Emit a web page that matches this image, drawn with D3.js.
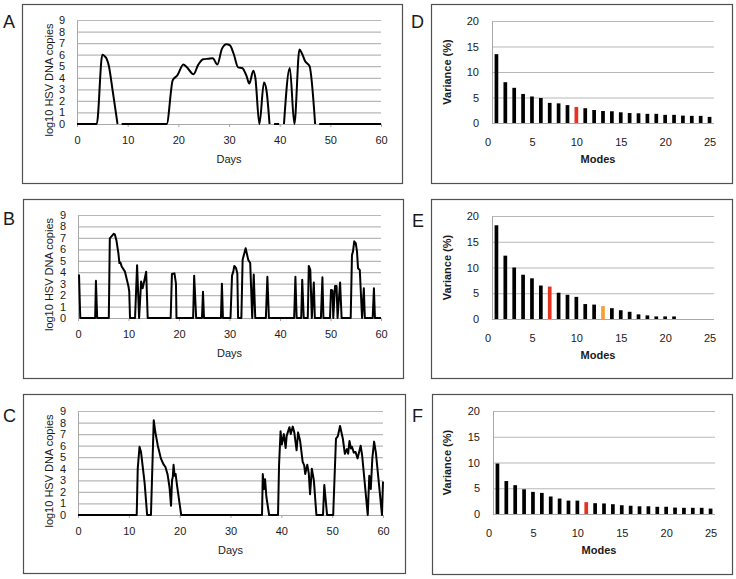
<!DOCTYPE html>
<html><head><meta charset="utf-8">
<script src="https://cdn.jsdelivr.net/npm/d3@7"></script>
<style>
html,body{margin:0;padding:0;background:#fff;}
svg{display:block;font-family:"Liberation Sans",Arial,sans-serif;}
</style></head>
<body>
<svg id="c" width="736" height="579"></svg>
<script>
// ---------- DATA ----------
const dayTicks = [0, 10, 20, 30, 40, 50, 60];
const logTicks = [0, 1, 2, 3, 4, 5, 6, 7, 8, 9];
const modeTicks = [0, 5, 10, 15, 20, 25];
const varTicks = [0, 5, 10, 15, 20];
const modes = d3.range(1, 26);

// Panel A (null = gap in the trace)
const aDays = [0,3.9,5.0,5.5,5.9,6.3,7.0,8.0,8.4,8.8,17.7,18.9,19.8,21.0,21.6,23.0,23.9,24.9,25.9,26.8,27.7,28.6,29.5,30.2,30.9,31.8,32.6,33.5,34.0,34.8,35.2,36.0,36.9,37.4,38.0,38.4,38.9,39.9,40.3,40.85,42.0,42.9,43.9,44.4,45.0,45.9,47.0,47.4,47.8,60];
const aLog  = [0,0,6.0,5.85,5.6,5.0,3.0,0,null,0,0,3.8,4.2,5.15,4.95,4.3,5.1,5.6,5.65,5.7,5.15,6.5,6.9,6.8,6.1,4.9,4.85,4.1,3.5,4.6,4.0,0,3.6,2.9,0,null,0,0,null,0,4.85,0,6.45,6.1,5.45,5.0,0,null,0,0];

// Panel B
const bDays = [0.2,0.45,3.4,3.55,3.8,6.1,6.3,7.06,7.3,7.6,8.0,8.2,8.4,8.65,9.3,10.0,10.15,10.3,11.3,11.7,12.1,12.5,12.8,13.0,13.5,13.8,18.35,18.6,19.1,19.4,19.5,22.8,23.0,23.4,24.55,24.75,24.95,28.3,28.5,28.7,30.2,30.5,30.75,30.95,31.3,31.55,31.7,32.35,32.6,33.2,33.7,34.1,34.5,34.8,35.1,37.2,37.5,37.8,42.8,43.05,43.3,44.2,44.4,44.7,45.5,45.7,46.0,46.3,46.7,46.9,48.1,48.4,48.6,49.9,50.1,50.4,50.55,50.9,51.2,51.4,51.9,52.2,54.0,54.25,54.45,54.7,55.0,55.25,55.45,55.8,56.25,56.6,56.8,58.35,58.6,58.8,60];
const bLog  = [3.8,0,0,3.25,0,0,6.96,7.35,7.3,6.8,5.65,4.8,4.85,4.5,4.05,2.75,2.3,0,0,4.6,0,3.2,2.6,3.0,4.05,0,0,3.85,3.9,3.0,0,0,3.7,0,0,2.3,0,0,3.0,0,0,3.7,4.05,4.55,4.35,3.9,0,0,5.1,6.1,5.1,4.8,0,3.8,0,0,3.6,0,0,3.6,0,0,3.35,0,0,4.55,4.2,0,3.1,0,0,3.55,0,0,2.45,2.4,0,2.8,2.8,0,3.1,0,0,5.5,5.8,6.7,6.55,5.8,4.35,4.2,0,2.6,0,0,2.6,0,0];

// Panel C
const cDays = [0,11.55,11.75,12.1,12.4,13.1,13.6,14.35,14.9,15.2,15.7,16.3,16.8,17.2,17.6,17.7,18.0,18.3,18.5,18.65,18.8,19.0,19.2,19.5,20.3,36.2,36.35,36.6,36.8,37.05,37.6,39.35,39.55,39.85,40.1,40.5,40.85,41.05,41.6,41.85,42.25,42.55,43.0,43.3,43.7,44.2,44.5,44.7,45.1,45.4,45.65,46.0,46.4,46.9,48.2,48.45,49.0,50.2,50.75,51.1,51.55,52.1,52.5,52.9,53.15,53.4,53.7,53.9,54.25,54.6,55.0,55.6,55.9,57.0,57.3,57.6,57.9,58.25,58.6,59.8,60];
const cLog  = [0,0,4.0,5.9,5.45,2.8,0,0,8.2,7.2,6.0,4.9,4.4,4.15,3.55,3.3,2.4,0.8,3.0,3.3,4.35,3.4,3.55,2.5,0,0,3.55,2.25,3.1,1.6,0,0,4.3,7.25,6.1,7.0,5.8,6.85,7.6,7.0,7.65,7.15,5.6,7.15,6.4,4.6,4.3,3.55,4.35,3.6,1.8,4.0,3.0,0,0,2.6,0,0,6.6,6.8,7.7,6.6,5.3,5.7,5.3,6.4,5.75,5.9,5.4,5.45,4.9,6.0,5.15,0,3.4,2.25,4.9,6.35,5.4,0,2.9];

// Panels D, E, F: variance (%) per mode
const dVar = [13.5,8.0,6.9,5.7,5.2,4.9,3.95,3.85,3.5,3.15,2.9,2.55,2.35,2.3,2.1,1.95,1.9,1.8,1.8,1.6,1.6,1.45,1.4,1.4,1.2];
const eVar = [18.2,12.3,10.0,8.6,7.9,6.5,6.3,5.1,4.7,4.3,2.9,2.8,2.5,2.1,1.7,1.4,0.9,0.7,0.5,0.5,0.5,0,0,0,0];
const fVar = [9.8,6.4,5.6,4.8,4.3,4.1,3.4,3.0,2.6,2.6,2.3,2.1,2.05,1.9,1.7,1.6,1.5,1.5,1.4,1.4,1.25,1.2,1.2,1.2,1.05];
const dHighlight = {10: "#e6321e"};
const eHighlight = {7: "#e6321e", 13: "#f4a03a"};
const fHighlight = {11: "#e6321e"};

// ---------- DRAW ----------
const svg = d3.select("#c");
const BORDER = "#505050", GRID = "#b8b8b8", AXIS = "#a8a8a8", TXT = "#1a1a1a";

function box(b){
  svg.append("rect").attr("x",b.x+0.5).attr("y",b.y+0.5).attr("width",b.w).attr("height",b.h)
    .attr("fill","#fff").attr("stroke",BORDER).attr("stroke-width",1.2);
}
function letter(t,x,y){
  svg.append("text").attr("x",x).attr("y",y).attr("font-size",18).attr("fill",TXT).text(t);
}
function styleAxis(g){
  g.select(".domain").attr("stroke",AXIS).attr("stroke-width",1);
  g.selectAll(".tick line").attr("stroke",AXIS);
  g.selectAll("text").attr("fill",TXT).attr("font-size",11).attr("font-family","'Liberation Sans',Arial,sans-serif");
}

function lineChart(cfg, days, vals){
  box(cfg.box);
  letter(cfg.letter, cfg.lx, cfg.ly);
  const x = d3.scaleLinear().domain([0,60]).range([cfg.x0,cfg.x1]);
  const y = d3.scaleLinear().domain([0,9]).range([cfg.y1,cfg.y0]);
  // grid
  const gg = svg.append("g").attr("transform",`translate(${cfg.x0},0)`)
    .call(d3.axisLeft(y).tickValues(logTicks.slice(1)).tickSize(-(cfg.x1-cfg.x0)).tickFormat(""));
  gg.select(".domain").remove();
  gg.selectAll(".tick line").attr("stroke",GRID).attr("stroke-width",1.2);
  // y axis
  const ya = svg.append("g").attr("transform",`translate(${cfg.x0},0)`)
    .call(d3.axisLeft(y).tickValues(logTicks).tickSize(0).tickPadding(12));
  styleAxis(ya);
  // x axis
  const xa = svg.append("g").attr("transform",`translate(0,${cfg.y1})`)
    .call(d3.axisBottom(x).tickValues(dayTicks).tickSize(3).tickPadding(9).tickSizeOuter(0));
  styleAxis(xa);
  // titles
  svg.append("text").attr("x",(cfg.x0+cfg.x1)/2).attr("y",cfg.y1+39).attr("text-anchor","middle")
    .attr("font-size",11).attr("fill",TXT).text("Days");
  svg.append("text").attr("transform",`translate(53,${(cfg.y0+cfg.y1)/2+8}) rotate(-90)`)
    .attr("text-anchor","middle").attr("font-size",11).attr("fill",TXT).text("log10 HSV DNA copies");
  // line
  const pts = days.map((d,i)=>[d,vals[i]]);
  const line = d3.line().defined(d=>d[1]!==null).x(d=>x(d[0])).y(d=>y(d[1])).curve(cfg.curve);
  svg.append("path").datum(pts).attr("d",line).attr("fill","none").attr("stroke","#000")
    .attr("stroke-width",2).attr("stroke-linejoin","round");
}

function barChart(cfg, vals, hl){
  box(cfg.box);
  letter(cfg.letter, cfg.lx, cfg.ly);
  const x = d3.scaleLinear().domain([0.5,25.5]).range([cfg.x0,cfg.x1]);
  const y = d3.scaleLinear().domain([0,20]).range([cfg.y1,cfg.y0]);
  const gg = svg.append("g").attr("transform",`translate(${cfg.x0},0)`)
    .call(d3.axisLeft(y).tickValues(varTicks.slice(1)).tickSize(-(cfg.x1-cfg.x0)).tickFormat(""));
  gg.select(".domain").remove();
  gg.selectAll(".tick line").attr("stroke",GRID).attr("stroke-width",1.2);
  const ya = svg.append("g").attr("transform",`translate(${cfg.x0},0)`)
    .call(d3.axisLeft(y).tickValues(varTicks).tickSize(0).tickPadding(13));
  styleAxis(ya);
  const xs = d3.scaleLinear().domain([0,25]).range([x(0),x(25)]);
  const xa = svg.append("g").attr("transform",`translate(0,${cfg.y1})`)
    .call(d3.axisBottom(xs).tickValues(modeTicks).tickSize(0).tickPadding(15));
  styleAxis(xa);
  xa.select(".domain").remove();
  svg.append("line").attr("x1",cfg.x0).attr("x2",cfg.x1).attr("y1",cfg.y1+0.5).attr("y2",cfg.y1+0.5)
    .attr("stroke",AXIS);
  svg.append("text").attr("x",(cfg.x0+cfg.x1)/2-5).attr("y",cfg.y1+40).attr("text-anchor","middle")
    .attr("font-size",11).attr("font-weight","bold").attr("fill",TXT).text("Modes");
  svg.append("text").attr("transform",`translate(451,${(cfg.y0+cfg.y1)/2}) rotate(-90)`)
    .attr("text-anchor","middle").attr("font-size",11).attr("font-weight","bold").attr("fill",TXT).text("Variance (%)");
  const bw = 3.7;
  svg.append("g").selectAll("rect").data(modes.map((m,i)=>({m, v:vals[i]})).filter(d=>d.v>0)).join("rect")
    .attr("x",d=>x(d.m)-bw/2).attr("width",bw)
    .attr("y",d=>y(d.v)).attr("height",d=>y(0)-y(d.v))
    .attr("fill",d=>hl[d.m]||"#000");
}

lineChart({box:{x:22,y:4,w:380,h:179},letter:"A",lx:3,ly:28,x0:77,x1:381,y0:20,y1:124,curve:d3.curveMonotoneX},aDays,aLog);
lineChart({box:{x:23,y:199,w:380,h:179},letter:"B",lx:3,ly:225,x0:78,x1:381,y0:215,y1:318,curve:d3.curveLinear},bDays,bLog);
lineChart({box:{x:23,y:394,w:382,h:179},letter:"C",lx:3,ly:422,x0:78,x1:383,y0:411,y1:515,curve:d3.curveLinear},cDays,cLog);

barChart({box:{x:431,y:4,w:301,h:179},letter:"D",lx:411,ly:28,x0:492,x1:714,y0:21,y1:123},dVar,dHighlight);
barChart({box:{x:431,y:199,w:301,h:179},letter:"E",lx:412,ly:227,x0:492,x1:714,y0:216,y1:319},eVar,eHighlight);
barChart({box:{x:432,y:394,w:300,h:180},letter:"F",lx:412,ly:422,x0:493,x1:715,y0:411,y1:514},fVar,fHighlight);
</script>
</body></html>
